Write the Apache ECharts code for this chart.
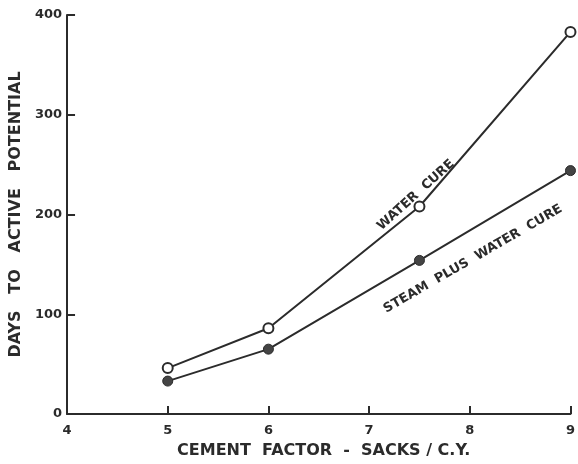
<!DOCTYPE html>
<html><head><meta charset="utf-8">
<script src="https://cdn.jsdelivr.net/npm/echarts@6/dist/echarts.min.js"></script>
<style>html,body{margin:0;padding:0;background:#fff;overflow:hidden}#c{width:578px;height:464px}</style>
</head><body><div id="c"></div>
<script>
const xTicks = [4, 5, 6, 7, 8, 9];
const yTicks = [0, 100, 200, 300, 400];
const waterCure = [[5, 46], [6, 86], [7.5, 208], [9, 383]];
const steamPlusWater = [[5, 33], [6, 65], [7.5, 154], [9, 244]];
const xTitle = 'CEMENT  FACTOR  -  SACKS / C.Y.';
const yTitle = 'DAYS   TO   ACTIVE   POTENTIAL';
const waterLabel = 'WATER  CURE';
const steamLabel = 'STEAM  PLUS  WATER  CURE';

const ink = '#2b2b2b';
const chart = echarts.init(document.getElementById('c'));
const axisCommon = {
  axisLine: {show: true, lineStyle: {color: ink, width: 2}},
  axisTick: {show: true, inside: true, length: 8, lineStyle: {color: ink, width: 2}},
  splitLine: {show: false},
  axisLabel: {color: ink, fontWeight: 'bold', fontSize: 13, fontFamily: 'DejaVu Sans'}
};
chart.setOption({
  animation: false,
  backgroundColor: '#fff',
  grid: {left: 67, right: 5, top: 15, bottom: 44, containLabel: false},
  xAxis: Object.assign({}, axisCommon, {
    type: 'value', min: xTicks[0], max: xTicks[xTicks.length - 1], interval: 1,
    name: xTitle, nameLocation: 'middle', nameGap: 29,
    nameTextStyle: {color: ink, fontWeight: 'bold', fontSize: 16, fontFamily: 'DejaVu Sans', padding: [0, 0, 0, 10]},
    axisLabel: Object.assign({}, axisCommon.axisLabel, {margin: 10})
  }),
  yAxis: Object.assign({}, axisCommon, {
    type: 'value', min: yTicks[0], max: yTicks[yTicks.length - 1], interval: 100,
    name: yTitle, nameLocation: 'middle', nameGap: 43,
    nameTextStyle: {color: ink, fontWeight: 'bold', fontSize: 16, fontFamily: 'DejaVu Sans'},
    axisLabel: Object.assign({}, axisCommon.axisLabel, {margin: 5})
  }),
  series: [
    {type: 'line', data: waterCure, symbol: 'circle', symbolSize: 10,
     lineStyle: {color: ink, width: 2}, itemStyle: {color: '#fff', borderColor: ink, borderWidth: 2}},
    {type: 'line', data: steamPlusWater, symbol: 'circle', symbolSize: 10,
     lineStyle: {color: ink, width: 2}, itemStyle: {color: '#444', borderColor: ink, borderWidth: 1}}
  ],
  graphic: [
    {type: 'text', x: 416, y: 195, rotation: 42 * Math.PI / 180,
     style: {text: waterLabel, fill: ink, font: 'bold 13px "DejaVu Sans"', align: 'center', verticalAlign: 'middle'}},
    {type: 'text', x: 473, y: 259, rotation: 30 * Math.PI / 180,
     style: {text: steamLabel, fill: ink, font: 'bold 13px "DejaVu Sans"', align: 'center', verticalAlign: 'middle'}}
  ]
});
</script></body></html>
